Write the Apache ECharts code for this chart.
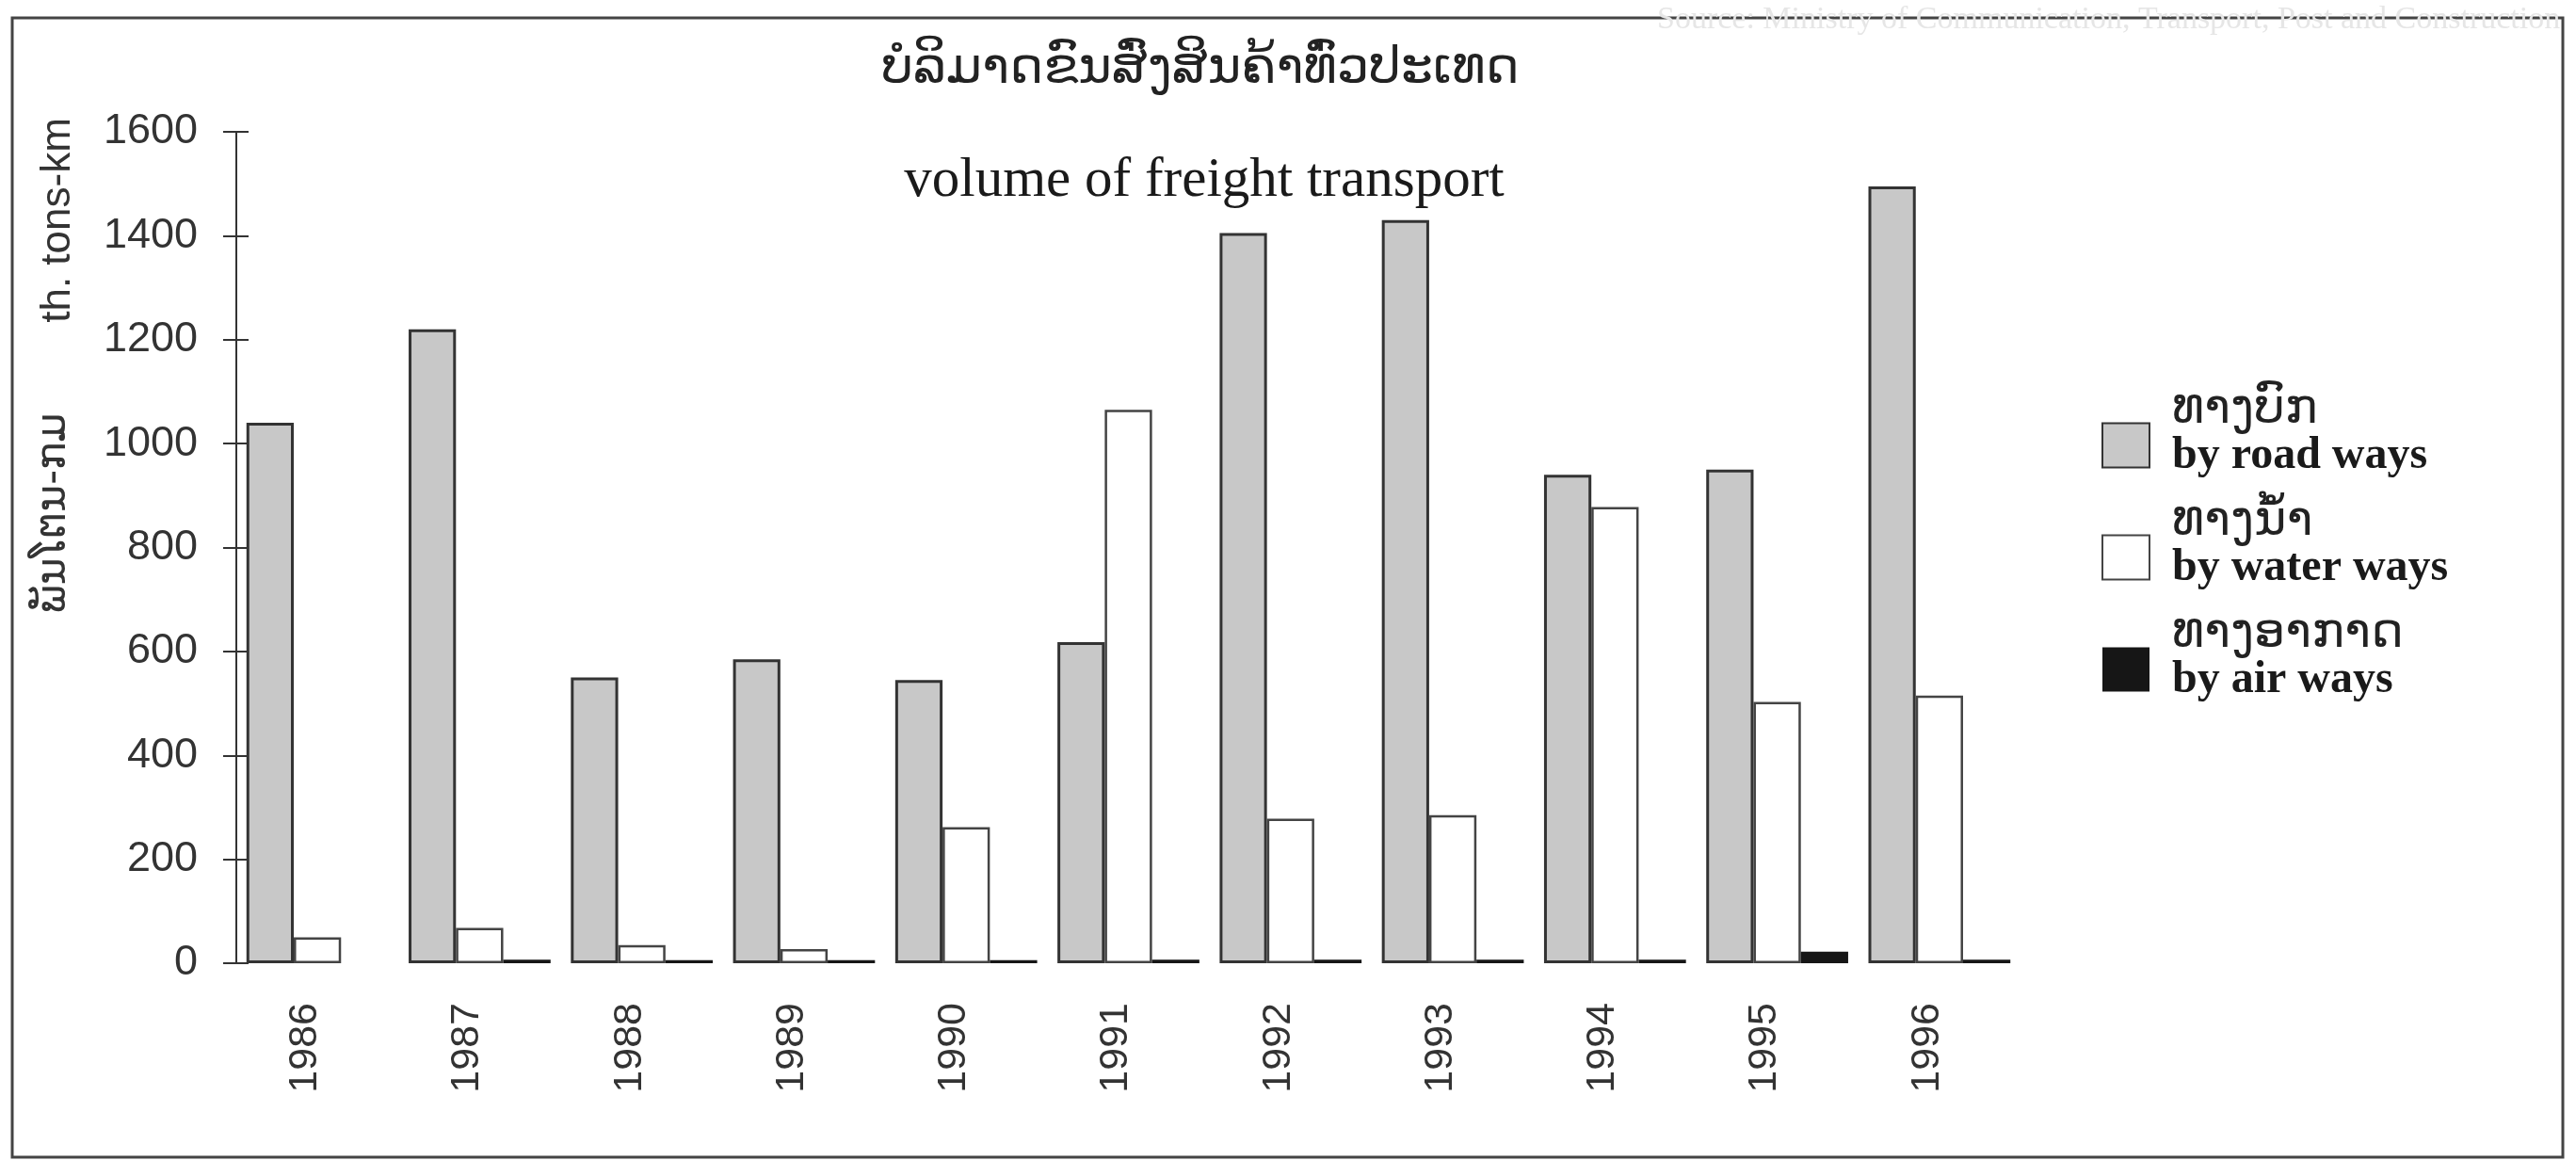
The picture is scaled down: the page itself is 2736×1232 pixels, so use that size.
<!DOCTYPE html>
<html>
<head>
<meta charset="utf-8">
<script src="https://cdn.jsdelivr.net/npm/echarts@6/dist/echarts.min.js"></script>
<style>html,body{margin:0;padding:0;background:#fff}#c{width:2736px;height:1232px}</style>
</head>
<body>
<div id="c"></div>
<script>
const years = ['1986','1987','1988','1989','1990','1991','1992','1993','1994','1995','1996'];
const roadWays  = [1040, 1220, 550, 585, 545, 618, 1405, 1430, 940, 950, 1495];
const waterWays = [50, 68, 35, 27, 262, 1065, 278, 285, 878, 503, 515];
const airWays   = [0, 7, 6, 6, 6, 7, 7, 7, 7, 22, 7];
const seriesNames = ['by road ways', 'by water ways', 'by air ways'];
const seriesNamesLao = ['ທາງບົກ', 'ທາງນ້ຳ', 'ທາງອາກາດ'];
const titleLao = 'ບໍລິມາດຂົນສົ່ງສິນຄ້າທົ່ວປະເທດ';
const titleEn = 'volume of freight transport';
const unitEn = 'th. tons-km';
const unitLao = 'ພັນໂຕນ-ກມ';
const sourceNote = 'Source: Ministry of Communication, Transport, Post and Construction';
const yMin = 0, yMax = 1600, yStep = 200;

const chart = echarts.init(document.getElementById('c'));
const sans = 'Liberation Sans, Arial, sans-serif';
const serif = 'Liberation Serif, Times New Roman, serif';
const laoFont = 'DejaVu Sans, Noto Sans, sans-serif';

const laoOf = {};
seriesNames.forEach((n, i) => { laoOf[n] = seriesNamesLao[i]; });

chart.setOption({
  backgroundColor: '#ffffff',
  animation: false,
  title: [
    { text: titleLao, left: 1270, top: 42, textAlign: 'center',
      textStyle: { fontFamily: laoFont, fontSize: 54, fontWeight: 'normal', color: '#222' } },
    { text: titleEn, left: 1274, top: 158, textAlign: 'center',
      textStyle: { fontFamily: serif, fontSize: 59, fontWeight: 'normal', color: '#1a1a1a' } }
  ],
  legend: {
    orient: 'vertical', left: 2232, top: 409, padding: 0,
    itemWidth: 50, itemHeight: 47, itemGap: 0,
    icon: 'rect',
    data: seriesNames,
    formatter: n => '{lao|' + laoOf[n] + '}\n{en|' + n + '}\n{pad| }',
    textStyle: {
      fontSize: 52, fontFamily: laoFont,
      rich: {
        lao: { fontFamily: laoFont, fontSize: 52, lineHeight: 50, color: '#222', padding: [0, 0, 0, 19] },
        en: { fontFamily: serif, fontSize: 48, fontWeight: 'bold', lineHeight: 50, color: '#1a1a1a', padding: [0, 0, 0, 19] },
        pad: { fontSize: 10, lineHeight: 26 }
      }
    }
  },
  grid: { left: 251, top: 140, width: 1895, height: 883, containLabel: false },
  xAxis: {
    type: 'category', data: years,
    axisLine: { show: false }, axisTick: { show: false },
    axisLabel: { rotate: 90, margin: 42, fontFamily: sans, fontSize: 43, color: '#333',
      verticalAlign: 'bottom', lineHeight: 26 }
  },
  yAxis: [
    { type: 'value', min: yMin, max: yMax, interval: yStep,
      axisLine: { show: true, lineStyle: { color: '#333', width: 2 } },
      axisTick: { show: true, length: 14, lineStyle: { color: '#333', width: 2 } },
      axisLabel: { margin: 41, fontFamily: sans, fontSize: 45, color: '#333', formatter: v => String(v) },
      splitLine: { show: false } },
    { type: 'value', min: yMin, max: yMax, interval: yStep, position: 'left',
      axisLine: { show: false },
      axisTick: { show: true, inside: true, length: 13, lineStyle: { color: '#333', width: 2 } },
      axisLabel: { show: false }, splitLine: { show: false } }
  ],
  series: [
    { name: seriesNames[0], type: 'bar', data: roadWays, barGap: '0%', barCategoryGap: '12.5%',
      itemStyle: { color: '#c8c8c8', borderColor: '#333', borderWidth: 3 } },
    { name: seriesNames[1], type: 'bar', data: waterWays, barGap: '0%', barCategoryGap: '12.5%',
      itemStyle: { color: '#ffffff', borderColor: '#444', borderWidth: 2.5 } },
    { name: seriesNames[2], type: 'bar', data: airWays, barGap: '0%', barCategoryGap: '12.5%',
      itemStyle: { color: '#161616', borderColor: '#161616', borderWidth: 0 } }
  ],
  graphic: [
    { type: 'rect', silent: true, z: -1,
      shape: { x: 13, y: 19, width: 2709, height: 1210 },
      style: { fill: null, stroke: '#444', lineWidth: 3 } },
    { type: 'text', silent: true, x: 1760, y: 4,
      style: { text: sourceNote, fontFamily: serif, fontSize: 34, fill: '#e6e6e6' } },
    { type: 'text', silent: true, x: 62, y: 234, rotation: Math.PI / 2,
      style: { text: unitEn, fontFamily: sans, fontSize: 44, fill: '#333', align: 'center', verticalAlign: 'middle' } },
    { type: 'text', silent: true, x: 58, y: 545, rotation: Math.PI / 2,
      style: { text: unitLao, fontFamily: laoFont, fontSize: 44, fill: '#333', align: 'center', verticalAlign: 'middle' } }
  ]
});
</script>
</body>
</html>
